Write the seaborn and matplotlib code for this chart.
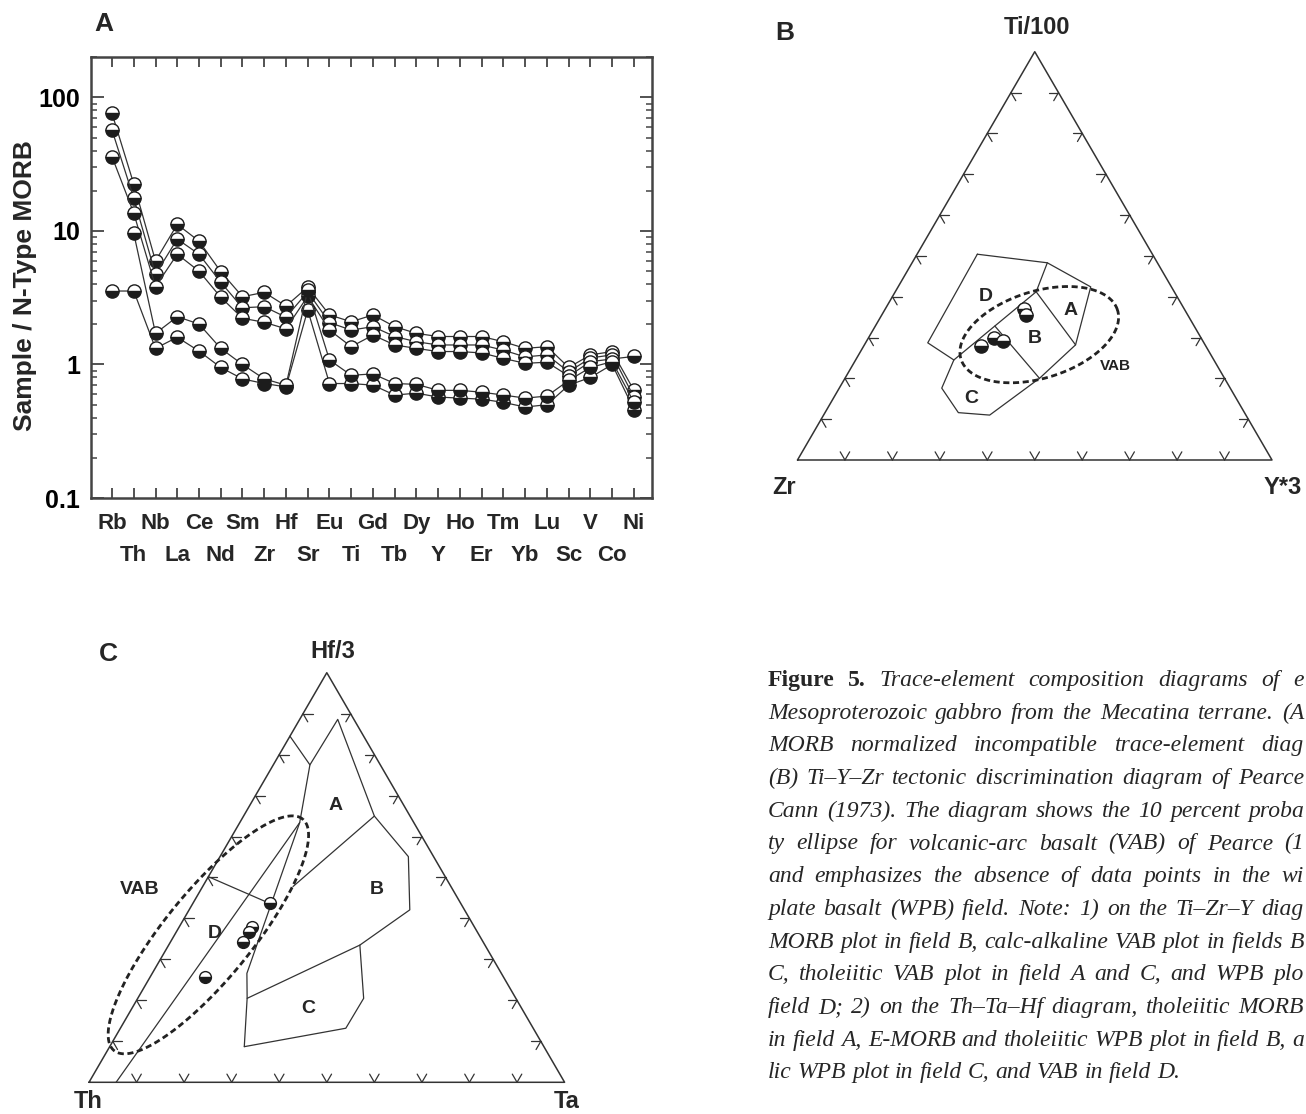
import numpy as np
import pandas as pd
import matplotlib
matplotlib.use("Agg")
import matplotlib.pyplot as plt
import matplotlib.ticker as mticker
import seaborn as sns

sns.set_theme(style="white")
plt.rcParams['font.family'] = ['Liberation Sans', 'DejaVu Sans']

W, H = 1306, 1114

# ---- A: trace elements normalised to N-type MORB ----
elements = ["Rb", "Th", "Nb", "La", "Ce", "Nd", "Sm", "Zr", "Hf", "Sr", "Eu", "Ti", "Gd",
            "Tb", "Dy", "Y", "Ho", "Er", "Tm", "Yb", "Lu", "Sc", "V", "Co", "Ni"]
sample_1 = [76, 22.5, 5.96, 11.2, 8.4, 4.96, 3.22, 3.47, 2.74, 3.8, 2.35, 2.09, 2.35,
            1.92, 1.71, 1.62, 1.62, 1.62, 1.48, 1.32, 1.36, 0.95, 1.18, 1.25, 0.64]
sample_2 = [57, 17.6, 4.74, 8.7, 6.7, 4.13, 2.66, 2.71, 2.26, 3.5, 2.06, 1.81, 1.92,
            1.62, 1.48, 1.40, 1.40, 1.40, 1.28, 1.14, 1.18, 0.88, 1.12, 1.18, 0.57]
sample_3 = [36, 13.6, 3.83, 6.7, 5.0, 3.19, 2.22, 2.07, 1.85, 3.25, 1.81, 1.36, 1.66,
            1.40, 1.32, 1.25, 1.25, 1.22, 1.11, 1.02, 1.04, 0.82, 1.05, 1.10, 1.15]
sample_4 = [3.55, 3.55, 1.32, 1.60, 1.26, 0.95, 0.78, 0.72, 0.68, 2.56, 0.72, 0.72, 0.70,
            0.59, 0.61, 0.57, 0.56, 0.55, 0.52, 0.48, 0.50, 0.70, 0.80, 1.00, 0.46]
sample_5 = [np.nan, 9.6, 1.71, 2.28, 2.01, 1.32, 1.00, 0.78, 0.70, 3.6, 1.08, 0.83, 0.85,
            0.72, 0.71, 0.64, 0.64, 0.62, 0.59, 0.56, 0.58, 0.76, 0.95, 1.05, 0.52]
samples = {"s1": sample_1, "s2": sample_2, "s3": sample_3, "s4": sample_4, "s5": sample_5}
y_ticks = [0.1, 1, 10, 100]
y_ticklabels = ["0.1", "1", "10", "100"]

# ---- B: Ti/100 - Zr - Y*3 (percent of Ti and Y, Zr is the rest) ----
b_ti = [36.9, 35.5, 27.9, 29.8, 29.2]
b_y = [29.3, 30.4, 24.8, 26.6, 28.7]
b_outline_ti = [50.4, 48.3, 42.4, 28.2, 20.0, 11.0, 11.6, 17.6, 24.5, 28.7, 50.4]
b_outline_y = [12.7, 28.5, 40.6, 44.5, 41.0, 35.0, 28.1, 21.6, 20.7, 13.1, 12.7]
b_db_ti, b_db_y = [24.5, 41.2, 48.3], [20.7, 29.7, 28.5]
b_ab_ti, b_ab_y = [41.2, 28.2], [29.7, 44.5]
b_bc_ti, b_bc_y = [32.8, 20.0], [25.2, 41.0]
b_field_names = ["D", "A", "B", "C"]
b_field_ti = [40.0, 36.7, 29.8, 15.1]
b_field_y = [19.6, 39.2, 35.0, 29.0]
b_vab = dict(top=30.7, right=35.6, a=0.173, b=0.092, angle=17.6)

# ---- C: Hf/3 - Th - Ta (percent of Hf and Ta, Th is the rest) ----
c_hf = [43.7, 38.0, 36.8, 34.3, 25.8]
c_ta = [16.3, 15.2, 15.3, 15.3, 11.5]
c_line1_hf = [84.5, 77.5, 88.6, 65.0, 55.1, 42.1, 33.5, 20.5]
c_line1_ta = [0.0, 7.7, 8.0, 27.5, 39.6, 46.4, 40.2, 23.0]
c_line2_hf, c_line2_ta = [77.5, 63.4, 0.0], [7.7, 12.6, 5.7]
c_line3_hf, c_line3_ta = [63.4, 26.6, 20.5, 8.7], [12.6, 19.9, 23.0, 28.3]
c_line4_hf, c_line4_ta = [33.5, 20.5, 13.2, 8.7], [40.2, 47.5, 47.4, 28.3]
c_line5_hf, c_line5_ta = [65.0, 47.8], [27.5, 19.0]
c_line6_hf, c_line6_ta = [50.2, 43.7], [0.0, 16.1]
c_field_names = ["A", "B", "C", "D"]
c_field_hf = [67.7, 47.0, 18.1, 36.4]
c_field_ta = [18.0, 36.9, 37.0, 8.2]
c_vab = dict(top=36.0, right=7.1, a=0.315, b=0.092, angle=51.0)

tick_fracs = np.arange(1, 10) / 10

# caption as far as it is visible (the page is cut at the right edge)
caption = [
    "Figure 5. Trace-element composition diagrams of e",
    "Mesoproterozoic gabbro from the Mecatina terrane. (A",
    "MORB normalized incompatible trace-element diag",
    "(B) Ti\u2013Y\u2013Zr tectonic discrimination diagram of Pearce",
    "Cann (1973). The diagram shows the 10 percent proba",
    "ty ellipse for volcanic-arc basalt (VAB) of Pearce (1",
    "and emphasizes the absence of data points in the wi",
    "plate basalt (WPB) field. Note: 1) on the Ti\u2013Zr\u2013Y diag",
    "MORB plot in field B, calc-alkaline VAB plot in fields B",
    "C, tholeiitic VAB plot in field A and C, and WPB plo",
    "field D; 2) on the Th\u2013Ta\u2013Hf diagram, tholeiitic MORB",
    "in field A, E-MORB and tholeiitic WPB plot in field B, a",
    "lic WPB plot in field C, and VAB in field D.",
]

DARK = "#1c1c1c"
LINE = "#333333"
SQ = np.sqrt(3) / 2


def fx(px):
    return px / W


def fy(py):
    return 1 - py / H


def tern(top, right):
    top = np.asarray(top, float) / 100
    right = np.asarray(right, float) / 100
    return right + top / 2, top * SQ


marker_kw = dict(marker="o", fillstyle="bottom", markerfacecolor=DARK,
                 markerfacecoloralt="white", markeredgecolor=DARK)

fig = plt.figure(figsize=(W / 100, H / 100), dpi=100)

# ================= panel A =================
rows = []
for name, vals in samples.items():
    for i, v in enumerate(vals):
        rows.append({"sample": name, "pos": i, "value": v})
dfa = pd.DataFrame(rows)

ax_a = fig.add_axes([fx(91), fy(498), (652 - 91) / W, (498 - 56.7) / H])
ax_a.set_yscale("log")
sns.lineplot(data=dfa, x="pos", y="value", units="sample", estimator=None, ax=ax_a,
             color=LINE, lw=0.9, markersize=9.5, markeredgewidth=1.0, legend=False, **marker_kw)
ax_a.set_xlim(-0.966, 24.83)
ax_a.set_ylim(0.1, 202)
ax_a.set_xlabel("")
ax_a.set_ylabel("")
ax_a.set_xticks(range(len(elements)))
ax_a.set_xticklabels([])
# element names in two staggered rows under the ticks
for i, e in enumerate(elements):
    row_y = -0.0567 if i % 2 == 0 else -0.1314
    ax_a.text(i, row_y, e, transform=ax_a.get_xaxis_transform(), ha="center", va="center",
              fontsize=16, fontweight="bold")
ax_a.yaxis.set_major_locator(mticker.FixedLocator(y_ticks))
ax_a.yaxis.set_major_formatter(mticker.FixedFormatter(y_ticklabels))
ax_a.yaxis.set_minor_locator(mticker.LogLocator(base=10, subs=np.arange(2, 10)))
ax_a.yaxis.set_minor_formatter(mticker.NullFormatter())
for lbl in ax_a.get_yticklabels():
    lbl.set_fontweight("bold")
    lbl.set_fontsize(18)
ax_a.tick_params(axis="x", which="major", direction="in", length=7, width=1.3,
                 top=True, bottom=True, colors="#444444")
ax_a.tick_params(axis="y", which="major", direction="in", length=9, width=1.3,
                 left=True, right=True, pad=8, colors="#444444", labelcolor="black")
ax_a.tick_params(axis="y", which="minor", direction="in", length=4.5, width=1.1,
                 left=True, right=True, colors="#444444")
for sp in ax_a.spines.values():
    sp.set_color("#444444")
    sp.set_linewidth(1.8)
fig.text(fx(25), fy(286), "Sample / N-Type MORB", rotation=90, ha="center", va="center",
         fontsize=19, fontweight="bold")
fig.text(fx(104), fy(24), "A", ha="center", va="center", fontsize=19, fontweight="bold")


# ================= ternary helpers =================
def draw_frame(ax):
    ax.plot([0, 1, 0.5, 0], [0, 0, SQ, 0], color=LINE, lw=1.1, clip_on=False)
    L = 0.02
    dirs_base = [(0.5, SQ), (-0.5, SQ)]
    dirs_left = [(1.0, 0.0), (0.5, -SQ)]
    dirs_right = [(-1.0, 0.0), (-0.5, -SQ)]
    for t in tick_fracs:
        for (px, py), dirs in [((t, 0.0), dirs_base),
                               ((0.5 * t, SQ * t), dirs_left),
                               ((1 - 0.5 * t, SQ * t), dirs_right)]:
            for dx, dy in dirs:
                ax.plot([px, px + L * dx], [py, py + L * dy], color=LINE, lw=0.9,
                        clip_on=False)
    ax.set_xlim(0, 1)
    ax.set_ylim(0, SQ)
    ax.set_axis_off()


def draw_poly(ax, top, right, lw=0.9):
    x, y = tern(top, right)
    ax.plot(x, y, color=LINE, lw=lw, clip_on=False)


def draw_ellipse(ax, e):
    cx, cy = tern(e["top"], e["right"])
    th = np.radians(e["angle"])
    s = np.linspace(0, 2 * np.pi, 300)
    ex = cx + e["a"] * np.cos(s) * np.cos(th) - e["b"] * np.sin(s) * np.sin(th)
    ey = cy + e["a"] * np.cos(s) * np.sin(th) + e["b"] * np.sin(s) * np.cos(th)
    ax.plot(ex, ey, color="#222222", lw=2.0, dashes=(2.2, 1.3), clip_on=False)


def draw_points(ax, top, right, ms):
    x, y = tern(top, right)
    sns.lineplot(x=x, y=y, estimator=None, sort=False, linestyle="none", ax=ax,
                 markersize=ms, markeredgewidth=1.0, legend=False, **marker_kw)


# ================= panel B =================
ax_b = fig.add_axes([fx(797.5), fy(460), 474.5 / W, 408.3 / H])
draw_frame(ax_b)
draw_poly(ax_b, b_outline_ti, b_outline_y)
draw_poly(ax_b, b_db_ti, b_db_y)
draw_poly(ax_b, b_ab_ti, b_ab_y)
draw_poly(ax_b, b_bc_ti, b_bc_y)
draw_ellipse(ax_b, b_vab)
draw_points(ax_b, b_ti, b_y, 9.5)
for name, t, r in zip(b_field_names, b_field_ti, b_field_y):
    x, y = tern(t, r)
    ax_b.text(x, y, name, ha="center", va="center", fontsize=14, fontweight="bold")
vx, vy = tern(22.9, 55.5)
ax_b.text(vx, vy, "VAB", ha="center", va="center", fontsize=11, fontweight="bold", color="#222222")
ax_b.set_xlim(0, 1)
ax_b.set_ylim(0, SQ)
fig.text(fx(1037), fy(28), "Ti/100", ha="center", va="center", fontsize=17, fontweight="bold")
fig.text(fx(784), fy(487), "Zr", ha="center", va="center", fontsize=17, fontweight="bold")
fig.text(fx(1283), fy(487), "Y*3", ha="center", va="center", fontsize=17, fontweight="bold")
fig.text(fx(785), fy(33), "B", ha="center", va="center", fontsize=19, fontweight="bold")

# ================= panel C =================
ax_c = fig.add_axes([fx(89), fy(1082.3), 475.6 / W, 409.6 / H])
draw_frame(ax_c)
draw_poly(ax_c, c_line1_hf, c_line1_ta)
draw_poly(ax_c, c_line2_hf, c_line2_ta)
draw_poly(ax_c, c_line3_hf, c_line3_ta)
draw_poly(ax_c, c_line4_hf, c_line4_ta)
draw_poly(ax_c, c_line5_hf, c_line5_ta)
draw_poly(ax_c, c_line6_hf, c_line6_ta)
draw_ellipse(ax_c, c_vab)
draw_points(ax_c, c_hf, c_ta, 8.5)
for name, t, r in zip(c_field_names, c_field_hf, c_field_ta):
    x, y = tern(t, r)
    ax_c.text(x, y, name, ha="center", va="center", fontsize=14, fontweight="bold")
vx, vy = tern(46.95, -12.9)
ax_c.text(vx, vy, "VAB", ha="center", va="center", fontsize=14, fontweight="bold")
ax_c.set_xlim(0, 1)
ax_c.set_ylim(0, SQ)
fig.text(fx(333), fy(652), "Hf/3", ha="center", va="center", fontsize=17, fontweight="bold")
fig.text(fx(88), fy(1102), "Th", ha="center", va="center", fontsize=17, fontweight="bold")
fig.text(fx(567), fy(1102), "Ta", ha="center", va="center", fontsize=17, fontweight="bold")
fig.text(fx(108), fy(654), "C", ha="center", va="center", fontsize=19, fontweight="bold")

# ================= caption (justified up to the cut edge) =================
X0, R = 768, 1304
serif = ['Liberation Serif', 'DejaVu Serif']
renderer = fig.canvas.get_renderer()
for li, line in enumerate(caption):
    y_base = 686 + li * 32.7
    words = line.split(" ")
    arts = []
    for wi, w in enumerate(words):
        bold = li == 0 and wi < 2
        arts.append(fig.text(0, fy(y_base), w, fontsize=17, family=serif,
                             style="normal" if bold else "italic",
                             weight="bold" if bold else "normal",
                             ha="left", va="baseline"))
    widths = [a.get_window_extent(renderer).width for a in arts]
    if li < len(caption) - 1:
        gap = (R - X0 - sum(widths)) / (len(arts) - 1)
    else:
        gap = 6.0
    x = X0
    for a, wd in zip(arts, widths):
        a.set_x(fx(x))
        x += wd + gap

fig.savefig("out.png", dpi=100, facecolor="white")
